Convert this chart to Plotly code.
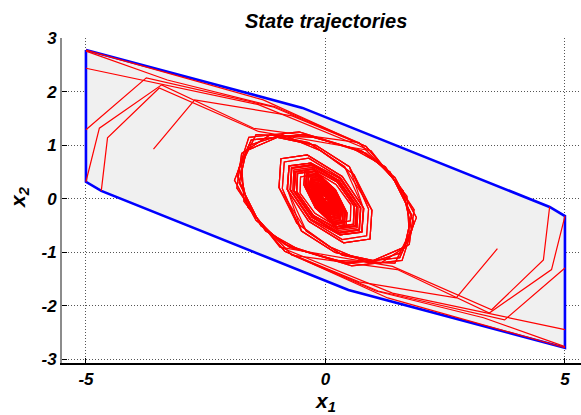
import plotly.graph_objects as go

# ---- invariant polygon (vertices) ----
poly_x = [-5.0, -0.48, 4.68, 5.0, 5.0, 0.48, -4.68, -5.0, -5.0]
poly_y = [2.78, 1.70, -0.15, -0.32, -2.78, -1.70, 0.15, 0.32, 2.78]

# ---- trajectory heads (first segments from the initial states) ----
head_L1 = [(-5.0, 2.78), (-1.3, 1.85)]
head_L2 = [(-5.0, 2.76), (-3.3, 2.22), (-1.05, 1.72)]
head_L3 = [(-5.0, 2.44), (-1.4, 1.76)]
head_L4 = [(-5.0, 1.29), (-3.74, 2.26), (-1.1, 1.72)]
head_L5 = [(-5.0, 0.32), (-4.72, 1.32), (-3.42, 2.13), (-1.5, 1.32)]
head_L6 = [(-4.68, 0.15), (-4.55, 1.14), (-3.47, 2.07), (-1.4, 1.26)]
head_L7 = [(-3.59, 0.93), (-2.73, 1.85), (-0.7, 1.55)]

head_R1 = [(5.0, -2.78), (1.3, -1.85)]
head_R2 = [(5.0, -2.76), (3.3, -2.22), (1.05, -1.72)]
head_R3 = [(5.0, -2.44), (1.4, -1.76)]
head_R4 = [(5.0, -1.29), (3.74, -2.26), (1.1, -1.72)]
head_R5 = [(5.0, -0.32), (4.72, -1.32), (3.42, -2.13), (1.5, -1.32)]
head_R6 = [(4.68, -0.15), (4.55, -1.14), (3.47, -2.07), (1.4, -1.26)]
head_R7 = [(3.59, -0.93), (2.73, -1.85), (0.7, -1.55)]

# ---- outer spiral loop ----
outer_A = [(0.85, 0.98), (1.62, 0.15), (1.8, -0.58), (1.55, -1.1), (0.45, -1.2), (-0.75, -0.9),
           (-1.35, -0.5), (-1.8, 0.3), (-1.65, 0.9), (-1.0, 1.15), (-0.2, 1.0), (0.5, 0.6)]
outer_B = [(0.7, 1.05), (1.5, 0.3), (1.85, -0.45), (1.6, -1.15), (0.55, -1.25), (-0.55, -0.95),
           (-1.25, -0.6), (-1.85, 0.2), (-1.75, 0.85), (-1.15, 1.2), (-0.35, 1.05), (0.4, 0.6)]
outer_C = [(0.95, 0.9), (1.7, 0.05), (1.75, -0.65), (1.45, -1.2), (0.2, -1.15), (-0.85, -0.85),
           (-1.45, -0.4), (-1.9, 0.35), (-1.6, 1.0), (-0.9, 1.2), (-0.1, 0.9), (0.6, 0.45)]
outer_MA = [(-0.85, -0.98), (-1.62, -0.15), (-1.8, 0.58), (-1.55, 1.1), (-0.45, 1.2), (0.75, 0.9),
            (1.35, 0.5), (1.8, -0.3), (1.65, -0.9), (1.0, -1.15), (0.2, -1.0), (-0.5, -0.6)]
outer_MB = [(-0.7, -1.05), (-1.5, -0.3), (-1.85, 0.45), (-1.6, 1.15), (-0.55, 1.25), (0.55, 0.95),
            (1.25, 0.6), (1.85, -0.2), (1.75, -0.85), (1.15, -1.2), (0.35, -1.05), (-0.4, -0.6)]
outer_MC = [(-0.95, -0.9), (-1.7, -0.05), (-1.75, 0.65), (-1.45, 1.2), (-0.2, 1.15), (0.85, 0.85),
            (1.45, 0.4), (1.9, -0.35), (1.6, -1.0), (0.9, -1.2), (0.1, -0.9), (-0.6, -0.45)]

# ---- inner tilted loops converging to the origin ----
inner_1 = [(0.90, -0.19), (0.86, -0.69), (0.35, -0.76), (-0.32, -0.39), (-0.74, 0.17), (-0.70, 0.57), (-0.28, 0.62),
           (0.28, 0.35), (0.68, -0.16), (0.66, -0.54), (0.27, -0.59), (-0.25, -0.31), (-0.60, 0.13), (-0.59, 0.47), (-0.24, 0.52),
           (0.19, 0.16), (0.42, -0.24), (0.40, -0.48), (0.15, -0.43), (-0.17, -0.14), (-0.37, 0.21), (-0.35, 0.42), (-0.13, 0.38),
           (0.15, 0.12), (0.32, -0.18), (0.29, -0.35), (0.11, -0.32), (-0.12, -0.10), (-0.27, 0.16), (-0.26, 0.31), (-0.10, 0.27),
           (0.11, 0.09), (0.23, -0.13), (0.22, -0.26), (0.08, -0.23), (-0.09, -0.08), (-0.20, 0.11), (-0.19, 0.22), (-0.07, 0.20),
           (0.08, 0.06), (0.17, -0.10), (0.16, -0.19), (0.06, -0.16), (-0.06, -0.05), (-0.13, 0.08), (-0.13, 0.15), (-0.05, 0.14),
           (0.05, 0.04), (0.12, -0.07), (0.11, -0.13), (0.04, -0.11), (-0.04, -0.03), (-0.09, 0.05), (-0.09, 0.10), (-0.03, 0.09),
           (0.03, 0.02), (0.07, -0.05), (0.06, -0.08), (0.0, -0.04), (-0.03, 0.0), (0.0, 0.0)]
inner_2 = [(0.79, -0.17), (0.76, -0.61), (0.31, -0.67), (-0.28, -0.34), (-0.65, 0.15), (-0.62, 0.50), (-0.25, 0.55),
           (0.25, 0.31), (0.60, -0.14), (0.58, -0.48), (0.24, -0.52), (-0.22, -0.27), (-0.53, 0.11), (-0.52, 0.41), (-0.21, 0.46),
           (0.17, 0.14), (0.37, -0.21), (0.35, -0.42), (0.13, -0.38), (-0.15, -0.12), (-0.33, 0.18), (-0.31, 0.37), (-0.11, 0.33),
           (0.13, 0.11), (0.28, -0.16), (0.26, -0.31), (0.10, -0.28), (-0.11, -0.09), (-0.24, 0.14), (-0.23, 0.27), (-0.09, 0.24),
           (0.10, 0.08), (0.20, -0.11), (0.19, -0.23), (0.07, -0.20), (-0.08, -0.07), (-0.18, 0.10), (-0.17, 0.19), (-0.06, 0.18),
           (0.07, 0.05), (0.15, -0.09), (0.14, -0.17), (0.05, -0.14), (-0.05, -0.04), (-0.11, 0.07), (-0.11, 0.13), (-0.04, 0.12),
           (0.04, 0.04), (0.11, -0.06), (0.10, -0.11), (0.04, -0.10), (-0.04, -0.03), (-0.08, 0.04), (-0.08, 0.09), (-0.03, 0.08),
           (0.03, 0.02), (0.06, -0.04), (0.05, -0.07), (0.0, -0.04), (-0.03, 0.0), (0.0, 0.0)]
inner_3 = [(0.97, -0.21), (0.93, -0.75), (0.38, -0.82), (-0.35, -0.42), (-0.80, 0.18), (-0.76, 0.62), (-0.30, 0.67),
           (0.30, 0.38), (0.73, -0.17), (0.71, -0.58), (0.29, -0.64), (-0.27, -0.33), (-0.65, 0.14), (-0.64, 0.51), (-0.26, 0.56),
           (0.21, 0.17), (0.45, -0.26), (0.43, -0.52), (0.16, -0.46), (-0.18, -0.15), (-0.40, 0.23), (-0.38, 0.45), (-0.14, 0.41),
           (0.16, 0.13), (0.35, -0.19), (0.31, -0.38), (0.12, -0.35), (-0.13, -0.11), (-0.29, 0.17), (-0.28, 0.33), (-0.11, 0.29),
           (0.12, 0.10), (0.25, -0.14), (0.24, -0.28), (0.09, -0.25), (-0.10, -0.09), (-0.22, 0.12), (-0.21, 0.24), (-0.08, 0.22),
           (0.09, 0.06), (0.18, -0.11), (0.17, -0.21), (0.06, -0.17), (-0.06, -0.05), (-0.14, 0.09), (-0.14, 0.16), (-0.05, 0.15),
           (0.05, 0.04), (0.13, -0.08), (0.12, -0.14), (0.04, -0.12), (-0.04, -0.03), (-0.10, 0.05), (-0.10, 0.11), (-0.03, 0.10),
           (0.03, 0.02), (0.08, -0.05), (0.06, -0.09), (0.0, -0.04), (-0.03, 0.0), (0.0, 0.0)]
inner_1m = [(-0.90, 0.19), (-0.86, 0.69), (-0.35, 0.76), (0.32, 0.39), (0.74, -0.17), (0.70, -0.57), (0.28, -0.62),
            (-0.28, -0.35), (-0.68, 0.16), (-0.66, 0.54), (-0.27, 0.59), (0.25, 0.31), (0.60, -0.13), (0.59, -0.47), (0.24, -0.52),
            (-0.19, -0.16), (-0.42, 0.24), (-0.40, 0.48), (-0.15, 0.43), (0.17, 0.14), (0.37, -0.21), (0.35, -0.42), (0.13, -0.38),
            (-0.15, -0.12), (-0.32, 0.18), (-0.29, 0.35), (-0.11, 0.32), (0.12, 0.10), (0.27, -0.16), (0.26, -0.31), (0.10, -0.27),
            (-0.11, -0.09), (-0.23, 0.13), (-0.22, 0.26), (-0.08, 0.23), (0.09, 0.08), (0.20, -0.11), (0.19, -0.22), (0.07, -0.20),
            (-0.08, -0.06), (-0.17, 0.10), (-0.16, 0.19), (-0.06, 0.16), (0.06, 0.05), (0.13, -0.08), (0.13, -0.15), (0.05, -0.14),
            (-0.05, -0.04), (-0.12, 0.07), (-0.11, 0.13), (-0.04, 0.11), (0.04, 0.03), (0.09, -0.05), (0.09, -0.10), (0.03, -0.09),
            (-0.03, -0.02), (-0.07, 0.05), (-0.06, 0.08), (0.0, 0.04), (0.03, 0.0), (0.0, 0.0)]
inner_2m = [(-0.79, 0.17), (-0.76, 0.61), (-0.31, 0.67), (0.28, 0.34), (0.65, -0.15), (0.62, -0.50), (0.25, -0.55),
            (-0.25, -0.31), (-0.60, 0.14), (-0.58, 0.48), (-0.24, 0.52), (0.22, 0.27), (0.53, -0.11), (0.52, -0.41), (0.21, -0.46),
            (-0.17, -0.14), (-0.37, 0.21), (-0.35, 0.42), (-0.13, 0.38), (0.15, 0.12), (0.33, -0.18), (0.31, -0.37), (0.11, -0.33),
            (-0.13, -0.11), (-0.28, 0.16), (-0.26, 0.31), (-0.10, 0.28), (0.11, 0.09), (0.24, -0.14), (0.23, -0.27), (0.09, -0.24),
            (-0.10, -0.08), (-0.20, 0.11), (-0.19, 0.23), (-0.07, 0.20), (0.08, 0.07), (0.18, -0.10), (0.17, -0.19), (0.06, -0.18),
            (-0.07, -0.05), (-0.15, 0.09), (-0.14, 0.17), (-0.05, 0.14), (0.05, 0.04), (0.11, -0.07), (0.11, -0.13), (0.04, -0.12),
            (-0.04, -0.04), (-0.11, 0.06), (-0.10, 0.11), (-0.04, 0.10), (0.04, 0.03), (0.08, -0.04), (0.08, -0.09), (0.03, -0.08),
            (-0.03, -0.02), (-0.06, 0.04), (-0.05, 0.07), (0.0, 0.04), (0.03, 0.0), (0.0, 0.0)]
inner_3m = [(-0.97, 0.21), (-0.93, 0.75), (-0.38, 0.82), (0.35, 0.42), (0.80, -0.18), (0.76, -0.62), (0.30, -0.67),
            (-0.30, -0.38), (-0.73, 0.17), (-0.71, 0.58), (-0.29, 0.64), (0.27, 0.33), (0.65, -0.14), (0.64, -0.51), (0.26, -0.56),
            (-0.21, -0.17), (-0.45, 0.26), (-0.43, 0.52), (-0.16, 0.46), (0.18, 0.15), (0.40, -0.23), (0.38, -0.45), (0.14, -0.41),
            (-0.16, -0.13), (-0.35, 0.19), (-0.31, 0.38), (-0.12, 0.35), (0.13, 0.11), (0.29, -0.17), (0.28, -0.33), (0.11, -0.29),
            (-0.12, -0.10), (-0.25, 0.14), (-0.24, 0.28), (-0.09, 0.25), (0.10, 0.09), (0.22, -0.12), (0.21, -0.24), (0.08, -0.22),
            (-0.09, -0.06), (-0.18, 0.11), (-0.17, 0.21), (-0.06, 0.17), (0.06, 0.05), (0.14, -0.09), (0.14, -0.16), (0.05, -0.15),
            (-0.05, -0.04), (-0.13, 0.08), (-0.12, 0.14), (-0.04, 0.12), (0.04, 0.03), (0.10, -0.05), (0.10, -0.11), (0.03, -0.10),
            (-0.03, -0.02), (-0.08, 0.05), (-0.06, 0.09), (0.0, 0.04), (0.03, 0.0), (0.0, 0.0)]

trajectories = [
    head_L1 + outer_A + inner_1, head_L2 + outer_B + inner_2, head_L3 + outer_C + inner_3,
    head_L4 + outer_A + inner_2, head_L5 + outer_B + inner_3, head_L6 + outer_C + inner_1,
    head_L7 + outer_A + inner_3,
    head_R1 + outer_MA + inner_1m, head_R2 + outer_MB + inner_2m, head_R3 + outer_MC + inner_3m,
    head_R4 + outer_MA + inner_2m, head_R5 + outer_MB + inner_3m, head_R6 + outer_MC + inner_1m,
    head_R7 + outer_MA + inner_3m,
]

x_ticks = [-5, 0, 5]
x_ticktext = ["-5", "0", "5"]
y_ticks = [-3, -2, -1, 0, 1, 2, 3]
y_ticktext = ["-3", "-2", "-1", "0", "1", "2", "3"]

FONT = "Liberation Sans"

fig = go.Figure()
fig.add_trace(go.Scatter(x=poly_x, y=poly_y, mode="lines", fill="toself",
                         fillcolor="#f0f0f0", line=dict(color="#0000ff", width=2.6),
                         hoverinfo="skip"))
for tr in trajectories:
    fig.add_trace(go.Scatter(x=[p[0] for p in tr], y=[p[1] for p in tr], mode="lines",
                             line=dict(color="#ff0000", width=1.2), hoverinfo="skip"))

tickfont = dict(family=FONT, size=17, color="black", weight="bold", style="italic")
grid = dict(showgrid=True, gridcolor="#555555", griddash="1px,2px", gridwidth=1, zeroline=False)
fig.update_layout(
    width=581, height=415,
    margin=dict(l=62, r=0, t=38, b=52),
    paper_bgcolor="white", plot_bgcolor="white",
    showlegend=False,
    xaxis=dict(range=[-5.5, 5.335], tickvals=x_ticks, ticktext=x_ticktext, **grid,
               showline=True, linecolor="black", linewidth=1.5,
               ticks="inside", ticklen=5, tickcolor="black", tickfont=tickfont),
    yaxis=dict(range=[-3.065, 3.005], tickvals=y_ticks, ticktext=y_ticktext, **grid,
               showline=True, linecolor="#8c8c8c", linewidth=2,
               ticks="inside", ticklen=5, tickcolor="black", tickfont=tickfont),
    annotations=[
        dict(text="State trajectories", xref="paper", yref="paper",
             x=(326 - 62) / (581 - 62), y=1 + (38 - 21) / 325, xanchor="center", yanchor="middle",
             showarrow=False,
             font=dict(family=FONT, size=20, color="black", weight="bold", style="italic")),
        dict(text="x<sub>1</sub>", xref="paper", yref="paper",
             x=(325 - 62) / (581 - 62), y=-(402 - 363) / 325, xanchor="center", yanchor="middle",
             showarrow=False,
             font=dict(family=FONT, size=21, color="black", weight="bold", style="italic")),
        dict(text="x<sub>2</sub>", xref="paper", yref="paper", textangle=-90,
             x=-(62 - 19) / 519, y=(363 - 197) / 325, xanchor="center", yanchor="middle",
             showarrow=False,
             font=dict(family=FONT, size=21, color="black", weight="bold", style="italic")),
    ],
)

fig.write_html("out.html")
